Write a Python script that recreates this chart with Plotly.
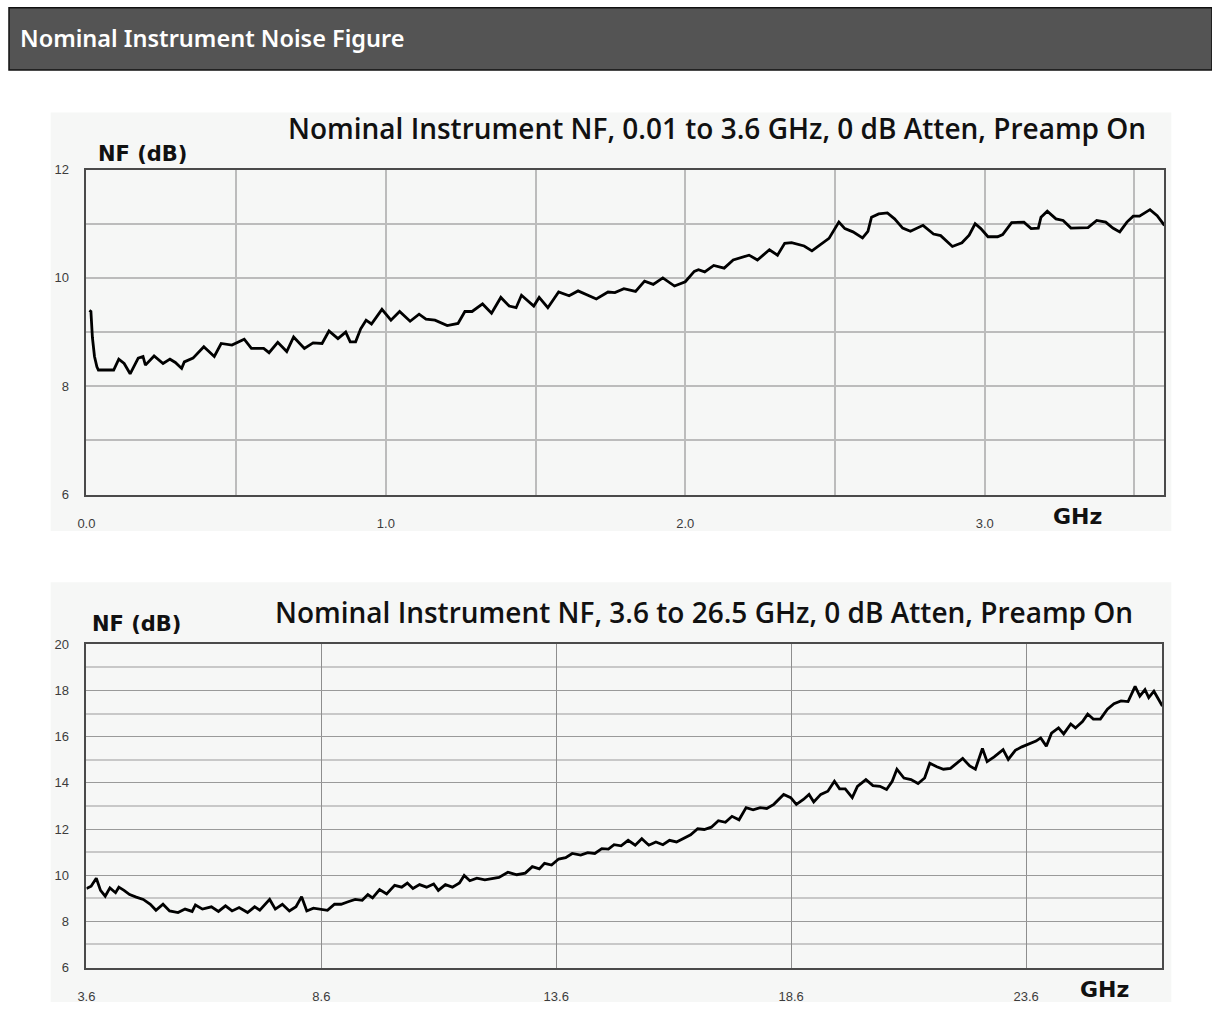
import plotly.graph_objects as go

# ---- Data: nominal noise figure, 0 dB attenuation, preamp on ----
# Low band, 0.01 to 3.6 GHz
low_band_ghz = [
    0.010, 0.015, 0.020, 0.027, 0.035, 0.040, 0.091, 0.108, 0.126, 0.146,
    0.173, 0.189, 0.197, 0.226, 0.256, 0.279, 0.297, 0.318, 0.327, 0.356,
    0.392, 0.427, 0.450, 0.486, 0.527, 0.551, 0.592, 0.610, 0.639, 0.669,
    0.692, 0.728, 0.757, 0.787, 0.810, 0.840, 0.866, 0.881, 0.899, 0.916,
    0.934, 0.952, 0.987, 1.017, 1.046, 1.081, 1.111, 1.134, 1.164, 1.205,
    1.241, 1.264, 1.288, 1.323, 1.353, 1.384, 1.412, 1.435, 1.453, 1.494,
    1.512, 1.541, 1.577, 1.612, 1.642, 1.677, 1.703, 1.742, 1.765, 1.795,
    1.834, 1.864, 1.893, 1.925, 1.964, 2.000, 2.030, 2.044, 2.065, 2.095,
    2.130, 2.160, 2.213, 2.241, 2.281, 2.308, 2.332, 2.355, 2.379, 2.397,
    2.423, 2.450, 2.480, 2.513, 2.533, 2.560, 2.592, 2.610, 2.622, 2.646,
    2.675, 2.699, 2.726, 2.752, 2.794, 2.829, 2.853, 2.892, 2.924, 2.948,
    2.968, 2.987, 3.011, 3.043, 3.060, 3.090, 3.131, 3.155, 3.179, 3.188,
    3.209, 3.238, 3.262, 3.288, 3.345, 3.374, 3.404, 3.428, 3.451, 3.475,
    3.496, 3.517, 3.552, 3.576, 3.600,
]
low_band_nf_db = [
    9.40, 9.38, 8.90, 8.55, 8.36, 8.30, 8.30, 8.50, 8.42, 8.23,
    8.52, 8.55, 8.39, 8.56, 8.42, 8.50, 8.44, 8.33, 8.45, 8.52,
    8.73, 8.55, 8.79, 8.76, 8.87, 8.70, 8.70, 8.62, 8.81, 8.64,
    8.91, 8.70, 8.80, 8.79, 9.02, 8.88, 9.00, 8.82, 8.82, 9.06,
    9.22, 9.15, 9.42, 9.22, 9.38, 9.20, 9.33, 9.24, 9.22, 9.12,
    9.16, 9.38, 9.38, 9.52, 9.35, 9.64, 9.48, 9.45, 9.68, 9.48,
    9.64, 9.45, 9.74, 9.67, 9.76, 9.67, 9.61, 9.74, 9.73, 9.80,
    9.75, 9.94, 9.88, 10.00, 9.85, 9.93, 10.12, 10.15, 10.11, 10.23,
    10.18, 10.33, 10.42, 10.33, 10.52, 10.42, 10.64, 10.65, 10.61, 10.59,
    10.50, 10.61, 10.73, 11.03, 10.91, 10.85, 10.74, 10.86, 11.12, 11.18,
    11.20, 11.09, 10.92, 10.86, 10.97, 10.81, 10.78, 10.58, 10.65, 10.79,
    11.00, 10.91, 10.76, 10.76, 10.80, 11.02, 11.03, 10.91, 10.92, 11.12,
    11.23, 11.09, 11.06, 10.92, 10.93, 11.06, 11.03, 10.92, 10.85, 11.03,
    11.14, 11.14, 11.26, 11.15, 10.97,
]

# High band, 3.6 to 26.5 GHz
high_band_ghz = [
    3.60, 3.70, 3.81, 3.90, 4.00, 4.10, 4.22, 4.29, 4.40, 4.52,
    4.66, 4.81, 4.96, 5.08, 5.23, 5.37, 5.55, 5.70, 5.85, 5.92,
    6.07, 6.26, 6.41, 6.56, 6.70, 6.85, 7.03, 7.18, 7.29, 7.40,
    7.50, 7.62, 7.77, 7.92, 8.06, 8.18, 8.29, 8.43, 8.58, 8.73,
    8.88, 9.02, 9.17, 9.32, 9.47, 9.59, 9.69, 9.84, 9.99, 10.16,
    10.31, 10.43, 10.55, 10.69, 10.84, 10.99, 11.09, 11.24, 11.39, 11.54,
    11.64, 11.76, 11.91, 12.08, 12.23, 12.38, 12.57, 12.76, 12.94, 13.09,
    13.24, 13.35, 13.50, 13.65, 13.80, 13.94, 14.12, 14.27, 14.42, 14.57,
    14.71, 14.83, 14.98, 15.13, 15.28, 15.42, 15.57, 15.72, 15.87, 16.01,
    16.16, 16.31, 16.46, 16.61, 16.75, 16.90, 17.05, 17.20, 17.34, 17.49,
    17.64, 17.79, 17.94, 18.08, 18.23, 18.44, 18.59, 18.71, 18.86, 18.98,
    19.08, 19.23, 19.38, 19.52, 19.63, 19.75, 19.90, 20.01, 20.19, 20.34,
    20.49, 20.63, 20.75, 20.85, 21.00, 21.15, 21.30, 21.44, 21.55, 21.70,
    21.84, 21.99, 22.13, 22.25, 22.40, 22.52, 22.67, 22.77, 22.92, 23.11,
    23.22, 23.37, 23.51, 23.66, 23.81, 23.91, 24.03, 24.14, 24.29, 24.40,
    24.55, 24.65, 24.80, 24.91, 25.03, 25.18, 25.33, 25.47, 25.62, 25.77,
    25.92, 26.02, 26.13, 26.21, 26.32, 26.50,
]
high_band_nf_db = [
    9.42, 9.52, 9.87, 9.34, 9.09, 9.45, 9.24, 9.48, 9.34, 9.16,
    9.05, 8.95, 8.74, 8.48, 8.74, 8.45, 8.38, 8.53, 8.43, 8.71,
    8.53, 8.63, 8.43, 8.67, 8.45, 8.60, 8.38, 8.63, 8.48, 8.74,
    8.95, 8.53, 8.74, 8.45, 8.63, 9.07, 8.45, 8.57, 8.53, 8.48,
    8.74, 8.74, 8.85, 8.95, 8.91, 9.16, 9.02, 9.38, 9.19, 9.56,
    9.48, 9.66, 9.42, 9.59, 9.48, 9.62, 9.34, 9.59, 9.48, 9.66,
    9.99, 9.76, 9.87, 9.80, 9.85, 9.90, 10.13, 10.02, 10.09, 10.37,
    10.27, 10.51, 10.44, 10.70, 10.76, 10.94, 10.87, 10.98, 10.94, 11.15,
    11.13, 11.32, 11.27, 11.51, 11.30, 11.58, 11.30, 11.44, 11.32, 11.51,
    11.44, 11.61, 11.75, 12.01, 11.98, 12.08, 12.36, 12.29, 12.55, 12.40,
    12.93, 12.83, 12.93, 12.89, 13.07, 13.50, 13.36, 13.07, 13.28, 13.50,
    13.17, 13.50, 13.64, 14.07, 13.74, 13.74, 13.36, 13.85, 14.14, 13.88,
    13.85, 13.71, 14.07, 14.59, 14.21, 14.14, 13.97, 14.21, 14.85, 14.70,
    14.59, 14.63, 14.85, 15.06, 14.73, 14.59, 15.49, 14.92, 15.13, 15.44,
    15.02, 15.41, 15.56, 15.67, 15.81, 15.95, 15.59, 16.15, 16.38, 16.12,
    16.55, 16.38, 16.66, 16.98, 16.76, 16.76, 17.19, 17.43, 17.55, 17.52,
    18.18, 17.76, 18.04, 17.69, 17.97, 17.33,
]

low_xticks = [0.0, 1.0, 2.0, 3.0]
high_xticks = [3.6, 8.6, 13.6, 18.6, 23.6]

# The page body keeps its default 8 px margin, so the figure fills the
# window inside it.  Positions below are given in window pixels and
# converted to paper fractions.
PAGE_MARGIN = 8
W, H = 1228 - 2 * PAGE_MARGIN, 1025 - 2 * PAGE_MARGIN


def px_x(v):
    return (v - PAGE_MARGIN) / W


def px_y(v):
    return 1 - (v - PAGE_MARGIN) / H


TICK_FONT = dict(family="Liberation Sans, Arial, sans-serif", size=13, color="#3c3c3c")
GRID = "#bcbcbc"
AXIS = "#4a4a4a"

fig = go.Figure()
fig.add_trace(go.Scatter(x=low_band_ghz, y=low_band_nf_db, mode="lines",
                         line=dict(color="#000000", width=2.8),
                         xaxis="x", yaxis="y", hoverinfo="skip"))
fig.add_trace(go.Scatter(x=high_band_ghz, y=high_band_nf_db, mode="lines",
                         line=dict(color="#000000", width=2.8),
                         xaxis="x2", yaxis="y2", hoverinfo="skip"))

axis_common = dict(showline=True, mirror=True, linecolor=AXIS, linewidth=1.6,
                   ticks="", tickfont=TICK_FONT, zeroline=False, fixedrange=True)

fig.update_layout(
    width=W, height=H,
    margin=dict(l=0, r=0, t=0, b=0),
    paper_bgcolor="#ffffff",
    plot_bgcolor="#fcfdfc",
    showlegend=False,
    xaxis=dict(domain=[px_x(86), px_x(1172)], anchor="y", range=[0, 3.6],
               tickvals=low_xticks, tickformat=".1f",
               showgrid=True, gridcolor=GRID, gridwidth=1.5,
               minor=dict(dtick=0.5, tick0=0, showgrid=True, gridcolor=GRID, gridwidth=1.5),
               ticklabelstandoff=16, **axis_common),
    yaxis=dict(domain=[px_y(503), px_y(173)], anchor="x", range=[6, 12],
               dtick=2, tick0=6,
               showgrid=True, gridcolor=GRID, gridwidth=1.5,
               minor=dict(dtick=1, tick0=6, showgrid=True, gridcolor=GRID, gridwidth=1.5),
               ticklabelstandoff=13, **axis_common),
    xaxis2=dict(domain=[px_x(86), px_x(1170)], anchor="y2", range=[3.6, 26.5],
                tickvals=high_xticks, tickformat=".1f",
                showgrid=True, gridcolor="#8e8e8e", gridwidth=1,
                ticklabelstandoff=16, **axis_common),
    yaxis2=dict(domain=[px_y(983), px_y(655)], anchor="x2", range=[6, 20],
                dtick=2, tick0=6,
                showgrid=True, gridcolor="#9a9a9a", gridwidth=1.2,
                minor=dict(dtick=1, tick0=6, showgrid=True, gridcolor="#c8c8c8", gridwidth=2.2),
                ticklabelstandoff=13, **axis_common),
)

shapes = []
# chart panels
for top, bottom in [(115, 540), (592, 1018)]:
    shapes.append(dict(type="rect", xref="paper", yref="paper", layer="below",
                       x0=px_x(50), x1=px_x(1179), y0=px_y(bottom), y1=px_y(top),
                       fillcolor="#f6f7f6", line=dict(width=0)))
# header bar
shapes.append(dict(type="rect", xref="paper", yref="paper",
                   x0=0, x1=1, y0=px_y(72), y1=px_y(8.8),
                   fillcolor="#545454", line=dict(color="#111111", width=1.5)))
fig.update_layout(shapes=shapes)

TITLE_FONT = dict(family="Open Sans, DejaVu Sans, sans-serif", size=28, color="#111111",
                  weight=600)
LABEL_FONT = dict(family="DejaVu Sans, Liberation Sans, sans-serif", size=21, color="#111111",
                  weight="bold")
UNIT_FONT = dict(family="DejaVu Sans, Liberation Sans, sans-serif", size=22, color="#111111",
                 weight="bold")


def label(text, x, y, font, xanchor="center"):
    return dict(text=text, xref="paper", yref="paper", x=px_x(x), y=px_y(y),
                xanchor=xanchor, yanchor="middle", showarrow=False, font=font)


annotations = [
    label("Nominal Instrument Noise Figure", 17, 39,
          dict(family="Noto Sans, Open Sans, sans-serif", size=23.5, color="#ffffff", weight=600),
          xanchor="left"),
    label("Nominal Instrument NF, 0.01 to 3.6 GHz, 0 dB Atten, Preamp On", 721, 131, TITLE_FONT),
    label("NF (dB)", 143, 157, LABEL_FONT),
    label("GHz", 1084, 525, UNIT_FONT),
    label("Nominal Instrument NF, 3.6 to 26.5 GHz, 0 dB Atten, Preamp On", 708, 622, TITLE_FONT),
    label("NF (dB)", 136, 634, LABEL_FONT),
    label("GHz", 1112, 1005, UNIT_FONT),
]
fig.update_layout(annotations=annotations)

fig.write_html("out.html", config={"displayModeBar": False})
